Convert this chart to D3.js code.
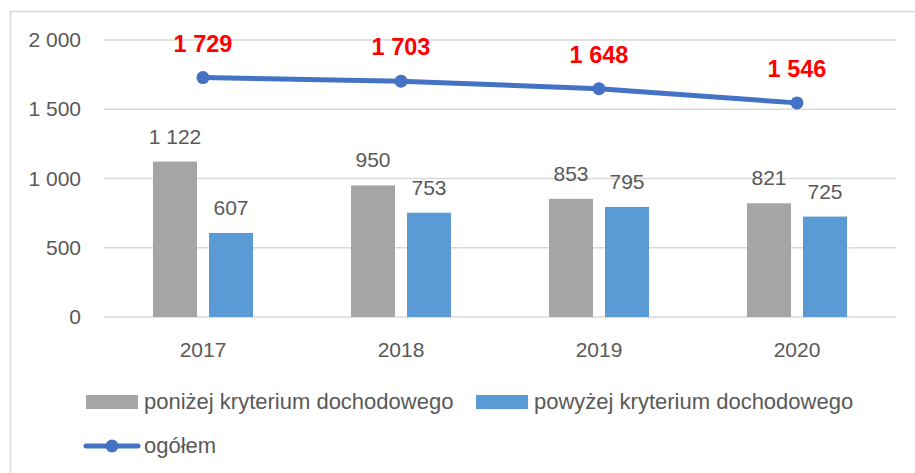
<!DOCTYPE html>
<html>
<head>
<meta charset="utf-8">
<script src="https://cdn.jsdelivr.net/npm/d3@7"></script>
<style>
  body { margin: 0; background: #fff; }
  text { font-family: "Liberation Sans", Arial, sans-serif; fill: #595959; }
</style>
</head>
<body>
<svg id="chart" width="915" height="473"></svg>
<script>
// data
const years = ["2017", "2018", "2019", "2020"];
const below = [1122, 950, 853, 821];   // poniżej kryterium dochodowego
const above = [607, 753, 795, 725];    // powyżej kryterium dochodowego
const total = [1729, 1703, 1648, 1546]; // ogółem
const yTicks = [0, 500, 1000, 1500, 2000];
const seriesNames = ["poniżej kryterium dochodowego", "powyżej kryterium dochodowego", "ogółem"];

const colGray = "#a5a5a5", colBlue = "#5b9bd5", colLine = "#4472c4";

// thousands separated by a space, like the original
const fmt = v => d3.format(",")(v).replace(/,/g, " ");

let svg = d3.select("#chart");

// chart frame (cut off on the right and bottom)
svg.append("path")
    .attr("d", "M 10.5 473 L 10.5 11.5 L 915 11.5")
    .attr("fill", "none")
    .attr("stroke", "#d9d9d9")
    .attr("stroke-width", 1.5);

let x = d3.scaleBand().domain(years).range([104, 896]);
let y = d3.scaleLinear().domain([0, 2000]).range([317, 40]);
let barW = 44, gap = 12;

// gridlines
svg.append("g").selectAll("line").data(yTicks).enter().append("line")
    .attr("x1", 104).attr("x2", 896)
    .attr("y1", d => y(d)).attr("y2", d => y(d))
    .attr("stroke", "#d9d9d9")
    .attr("stroke-width", 1.3);

// y labels
let yAxis = d3.axisLeft(y).tickValues(yTicks).tickFormat(fmt).tickSize(0).tickPadding(0);
let gy = svg.append("g").attr("transform", "translate(81,0)").call(yAxis);
gy.select(".domain").remove();
gy.selectAll("text")
    .attr("font-family", null)
    .style("font-size", "21px")
    .attr("fill", "#595959");

// x labels
let xAxis = d3.axisBottom(x).tickSize(0).tickPadding(0);
let gx = svg.append("g").attr("transform", "translate(0,337)").call(xAxis);
gx.select(".domain").remove();
gx.selectAll("text")
    .attr("font-family", null)
    .attr("dy", null)
    .attr("y", 19.5)
    .style("font-size", "21px")
    .attr("fill", "#595959");

// bars
let cx = d => x(d) + x.bandwidth() / 2;
let barData = [];
years.forEach((yr, i) => {
    barData.push({ yr: yr, v: below[i], off: -gap / 2 - barW, c: colGray });
    barData.push({ yr: yr, v: above[i], off: gap / 2, c: colBlue });
});

svg.append("g").selectAll("rect").data(barData).enter().append("rect")
    .attr("x", d => cx(d.yr) + d.off)
    .attr("y", d => y(d.v))
    .attr("width", barW)
    .attr("height", d => y(0) - y(d.v))
    .attr("fill", d => d.c);

svg.append("g").selectAll("text").data(barData).enter().append("text")
    .attr("x", d => cx(d.yr) + d.off + barW / 2)
    .attr("y", d => y(d.v) - 18)
    .attr("text-anchor", "middle")
    .style("font-size", "21px")
    .text(d => fmt(d.v));

// total line
let lineData = years.map((yr, i) => ({ yr: yr, v: total[i] }));
let line = d3.line().x(d => cx(d.yr)).y(d => y(d.v));

svg.append("path")
    .datum(lineData)
    .attr("d", line)
    .attr("fill", "none")
    .attr("stroke", colLine)
    .attr("stroke-width", 5)
    .attr("stroke-linejoin", "round");

svg.append("g").selectAll("circle").data(lineData).enter().append("circle")
    .attr("cx", d => cx(d.yr))
    .attr("cy", d => y(d.v))
    .attr("r", 6.5)
    .attr("fill", colLine);

svg.append("g").selectAll("text").data(lineData).enter().append("text")
    .attr("x", d => cx(d.yr))
    .attr("y", d => y(d.v) - 26)
    .attr("text-anchor", "middle")
    .style("font-size", "23.5px")
    .style("font-weight", "bold")
    .style("fill", "#ff0000")
    .text(d => fmt(d.v));

// legend
let legend = svg.append("g");
let boxItems = [
    { name: seriesNames[0], c: colGray, x: 86 },
    { name: seriesNames[1], c: colBlue, x: 476 }
];
boxItems.forEach(it => {
    legend.append("rect")
        .attr("x", it.x).attr("y", 395)
        .attr("width", 52).attr("height", 14)
        .attr("fill", it.c);
    legend.append("text")
        .attr("x", it.x + 58).attr("y", 409)
        .style("font-size", "22px")
        .text(it.name);
});

legend.append("line")
    .attr("x1", 86).attr("x2", 138)
    .attr("y1", 446).attr("y2", 446)
    .attr("stroke", colLine)
    .attr("stroke-width", 5)
    .attr("stroke-linecap", "round");
legend.append("circle")
    .attr("cx", 112).attr("cy", 446).attr("r", 6.5)
    .attr("fill", colLine);
legend.append("text")
    .attr("x", 144).attr("y", 453)
    .style("font-size", "22px")
    .text(seriesNames[2]);
</script>
</body>
</html>
